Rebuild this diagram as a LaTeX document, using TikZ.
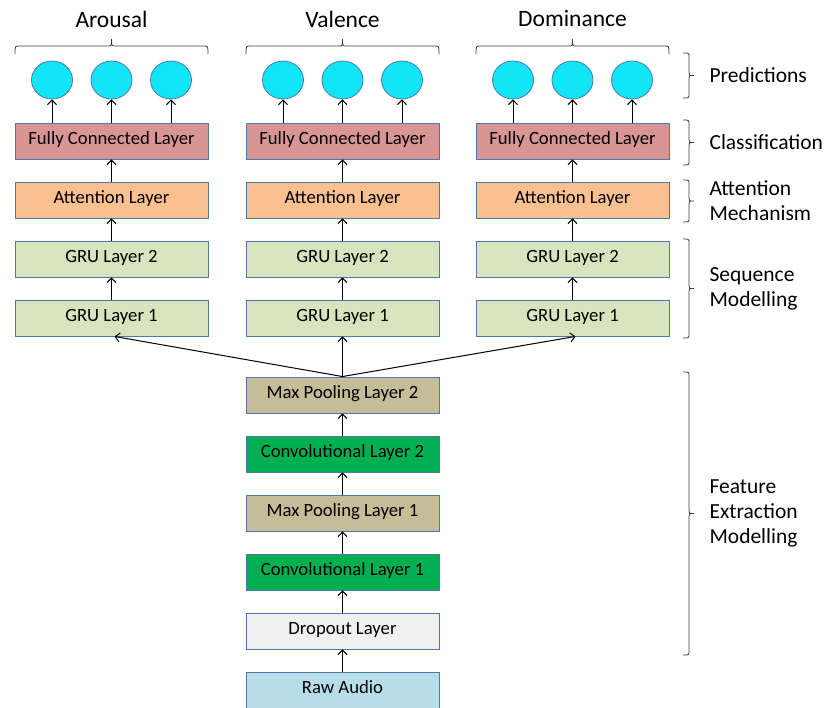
\documentclass[tikz,border=0pt]{standalone}
\usepackage{fontspec}
\setmainfont{Carlito}
\usetikzlibrary{arrows.meta,shapes.geometric}
\definecolor{bordc}{RGB}{79,119,170}
\definecolor{fcc}{RGB}{217,149,148}
\definecolor{attc}{RGB}{250,192,144}
\definecolor{gruc}{RGB}{215,228,189}
\definecolor{poolc}{RGB}{196,189,151}
\definecolor{convc}{RGB}{0,176,80}
\definecolor{dropc}{RGB}{240,240,240}
\definecolor{rawc}{RGB}{183,222,232}
\definecolor{cyanc}{RGB}{18,229,245}
\definecolor{bracec}{RGB}{60,60,60}
\begin{document}
\begin{tikzpicture}[x=1pt,y=-1pt,
  layer/.style={draw=bordc,line width=0.9pt,minimum width=193pt,minimum height=36pt,inner sep=0pt,text height=0.62em,text depth=0pt,font=\fontsize{18.7}{22}\selectfont},
  outnode/.style={draw=bordc,line width=0.8pt,fill=cyanc,ellipse,minimum width=41pt,minimum height=38pt,inner sep=0pt},
  arr/.style={line width=1pt,-{Straight Barb[length=4.5pt,width=9pt]}},
  title/.style={font=\fontsize{23.5}{27}\selectfont},
  side/.style={font=\fontsize{21.5}{25}\selectfont,anchor=west,align=left},
  brc/.style={draw=bracec,line width=0.8pt}]
\useasboundingbox (0,0) rectangle (827,707);
% columns
\foreach \c/\x/\t in {a/111.5/Arousal,v/342.5/Valence,d/572.5/Dominance}{
  \node[title] (title\c) at (\x,19) {\t};
  \node[layer,fill=fcc] (fc\c) at (\x,141) {Fully Connected Layer};
  \node[layer,fill=attc] (att\c) at (\x,200) {Attention Layer};
  \node[layer,fill=gruc] (grub\c) at (\x,259) {GRU Layer 2};
  \node[layer,fill=gruc] (grua\c) at (\x,318) {GRU Layer 1};
  \foreach \i/\dx in {1/-59.5,2/0,3/59.5}{
    \node[outnode] (o\c\i) at (\x+\dx,80) {};
    \draw[arr] (fc\c.north -| o\c\i) -- (o\c\i.south);
  }
  \draw[arr] (att\c) -- (fc\c);
  \draw[arr] (grub\c) -- (att\c);
  \draw[arr] (grua\c) -- (grub\c);
  % top brace
  \coordinate (bl\c) at (\x-96.5,54);
  \coordinate (br\c) at (\x+96.5,54);
  \draw[brc] (bl\c) .. controls (\x-96.5,46) .. (\x-92,46) -- (\x-4,46) .. controls (\x,46) .. (\x,39)
     .. controls (\x,46) .. (\x+4,46) -- (\x+92,46) .. controls (\x+96.5,46) .. (br\c);
}
% feature extraction stack
\node[layer,fill=poolc] (mp2) at (342.5,395) {Max Pooling Layer 2};
\node[layer,fill=convc] (cv2) at (342.5,454) {Convolutional Layer 2};
\node[layer,fill=poolc] (mp1) at (342.5,513) {Max Pooling Layer 1};
\node[layer,fill=convc] (cv1) at (342.5,572) {Convolutional Layer 1};
\node[layer,fill=dropc] (drop) at (342.5,631) {Dropout Layer};
\node[layer,fill=rawc] (raw) at (342.5,690) {Raw Audio};
\draw[arr] (raw) -- (drop);
\draw[arr] (drop) -- (cv1);
\draw[arr] (cv1) -- (mp1);
\draw[arr] (mp1) -- (cv2);
\draw[arr] (cv2) -- (mp2);
\draw[arr] (mp2.north) -- (gruav.south);
\draw[arr] (mp2.north) -- ([xshift=3pt]gruaa.south);
\draw[arr] (mp2.north) -- ([xshift=3pt]gruad.south);
% side braces
\foreach \n/\ya/\yb/\txt in {p/53/98/Predictions,c/120/165/Classification,m/180/222/{Attention\\Mechanism},s/239/338/{Sequence\\Modelling},f/372/655/{Feature\\Extraction\\Modelling}}{
  \pgfmathsetmacro{\ym}{(\ya+\yb)/2}
  \draw[brc] (683,\ya) .. controls (689,\ya) .. (689,\ya+4) -- (689,\ym-3) .. controls (689,\ym) .. (694,\ym)
     .. controls (689,\ym) .. (689,\ym+3) -- (689,\yb-4) .. controls (689,\yb) .. (683,\yb);
  \node[side] (lab\n) at (706,\ym) {\txt};
}
\end{tikzpicture}
\end{document}
